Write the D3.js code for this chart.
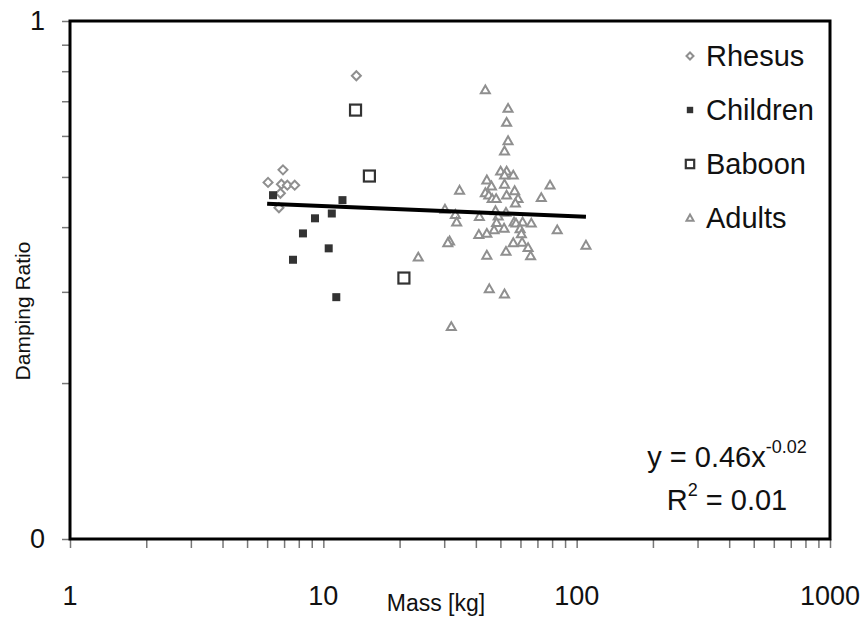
<!DOCTYPE html>
<html>
<head>
<meta charset="utf-8">
<script src="https://cdn.jsdelivr.net/npm/d3@7"></script>
<style>
  html, body { margin: 0; padding: 0; background: #fff; }
  text { font-family: "Liberation Sans", Arial, sans-serif; }
</style>
</head>
<body>
<svg id="chart" width="867" height="619"></svg>
<script>
// ---------------- data ----------------
const rhesusMass  = [13.5, 6.93, 6.05, 6.83, 7.21, 7.71, 6.77, 6.68];
const rhesusRatio = [0.784, 0.516, 0.488, 0.484, 0.482, 0.482, 0.465, 0.436];

const childrenMass  = [6.33, 11.9, 9.27, 10.8, 8.31, 10.5, 7.59, 11.25];
const childrenRatio = [0.461, 0.451, 0.416, 0.425, 0.389, 0.364, 0.346, 0.293];

const baboonMass  = [13.4, 15.2, 20.8];
const baboonRatio = [0.673, 0.502, 0.319];

const adultsMass = [43.6, 53.6, 52.9, 53.6, 51.9, 50.1, 52.9, 51.9, 56.2, 44.2,
                    51.9, 46.1, 78.5, 34.5, 43.6, 45.0, 56.9, 52.9, 46.4, 48.1,
                    58.7, 72.5, 57.3, 30.2, 33.2, 41.3, 49.0, 33.6, 48.3, 56.6,
                    57.6, 61.2, 66.2, 51.7, 47.2, 59.8, 83.8, 41.1, 44.2, 60.5,
                    31.5, 31.0, 56.2, 60.9, 108.8, 64.3, 52.6, 23.7, 44.2, 65.8,
                    45.2, 51.9, 32.0, 47.8, 52.6];
const adultsRatio = [0.736, 0.678, 0.637, 0.587, 0.561, 0.513, 0.513, 0.504, 0.504, 0.493,
                     0.484, 0.480, 0.482, 0.471, 0.466, 0.461, 0.470, 0.461, 0.454, 0.454,
                     0.454, 0.456, 0.445, 0.433, 0.423, 0.419, 0.420, 0.409, 0.408, 0.409,
                     0.407, 0.409, 0.407, 0.398, 0.395, 0.397, 0.395, 0.387, 0.389, 0.388,
                     0.376, 0.373, 0.373, 0.374, 0.369, 0.365, 0.359, 0.350, 0.353, 0.352,
                     0.304, 0.297, 0.257, 0.430, 0.427];

const seriesNames = ["Rhesus", "Children", "Baboon", "Adults"];

// power-law trendline y = a * x^b over the data range
const trendA = 0.46, trendB = -0.02;
const trendRange = [6.0, 108.8];

const xTickValues = [1, 10, 100, 1000];
const xTickLabels = ["1", "10", "100", "1000"];
const yTickLabels = ["0", "1"];
const xTitle = "Mass [kg]";
const yTitle = "Damping Ratio";
const eqLine1 = "y = 0.46x", eqSup1 = "-0.02";
const eqLine2a = "R", eqSup2 = "2", eqLine2b = " = 0.01";

// ---------------- layout ----------------
const svg = d3.select("#chart");
const L = 70, R = 830, T = 21, B = 539;

const x = d3.scaleLog().domain([1, 1000]).range([L, R]);
const y = d3.scaleLog().domain([0.1, 1]).range([B, T]);

svg.append("rect").attr("width", 867).attr("height", 619).attr("fill", "#fff");

// x ticks (majors + minors)
const xMinor = [];
for (let d = 1; d < 1000; d *= 10) for (let k = 1; k <= 9; k++) xMinor.push(d * k);
xMinor.push(1000);
const xAxis = d3.axisBottom(x).tickValues(xMinor).tickSize(9).tickFormat("");
const gx = svg.append("g").attr("transform", `translate(0,${B})`).call(xAxis);
gx.select(".domain").remove();
gx.selectAll(".tick line").attr("stroke", "#777").attr("stroke-width", 1.5);

// y ticks
const yTicks = [0.1, 0.2, 0.3, 0.4, 0.5, 0.6, 0.7, 0.8, 0.9, 1];
const yAxis = d3.axisLeft(y).tickValues(yTicks).tickSize(8).tickFormat("");
const gy = svg.append("g").attr("transform", `translate(${L},0)`).call(yAxis);
gy.select(".domain").remove();
gy.selectAll(".tick line").attr("stroke", "#777").attr("stroke-width", 1.5);

// tick labels
svg.selectAll(".xlab").data(xTickValues).enter().append("text")
  .attr("x", d => x(d)).attr("y", 605)
  .attr("text-anchor", "middle").attr("font-size", 27).attr("fill", "#111")
  .text((d, i) => xTickLabels[i]);
svg.selectAll(".ylab").data([0.1, 1]).enter().append("text")
  .attr("x", 45).attr("y", d => y(d) + 9)
  .attr("text-anchor", "end").attr("font-size", 27).attr("fill", "#111")
  .text((d, i) => yTickLabels[i]);

// axis titles
svg.append("text").attr("x", 436).attr("y", 611).attr("text-anchor", "middle")
  .attr("font-size", 23).attr("fill", "#111").text(xTitle);
svg.append("text").attr("transform", "translate(30,311) rotate(-90)")
  .attr("text-anchor", "middle").attr("font-size", 21).attr("fill", "#111").text(yTitle);

// plot frame
svg.append("rect").attr("x", L).attr("y", T).attr("width", R - L).attr("height", B - T)
  .attr("fill", "none").attr("stroke", "#000").attr("stroke-width", 3);

// ---------------- markers ----------------
const gray = "#8f8f8f", dark = "#333";
function drawMarker(g, type, cx, cy, s) {
  if (type === "Rhesus") {
    g.append("path").attr("d", `M${cx},${cy - s}L${cx + s},${cy}L${cx},${cy + s}L${cx - s},${cy}Z`)
      .attr("fill", "#fff").attr("stroke", gray).attr("stroke-width", 2);
  } else if (type === "Children") {
    g.append("rect").attr("x", cx - s).attr("y", cy - s).attr("width", 2 * s).attr("height", 2 * s)
      .attr("fill", dark).attr("stroke", "none");
  } else if (type === "Baboon") {
    g.append("rect").attr("x", cx - s).attr("y", cy - s).attr("width", 2 * s).attr("height", 2 * s)
      .attr("fill", "#fff").attr("stroke", dark).attr("stroke-width", 2.2);
  } else {
    const h = s * 1.0;
    g.append("path").attr("d", `M${cx},${cy - h}L${cx + s},${cy + h * 0.75}L${cx - s},${cy + h * 0.75}Z`)
      .attr("fill", "#fff").attr("stroke", gray).attr("stroke-width", 2);
  }
}

const pts = svg.append("g");
const series = [
  { name: "Rhesus",   m: rhesusMass,   r: rhesusRatio,   s: 4.5 },
  { name: "Children", m: childrenMass, r: childrenRatio, s: 4 },
  { name: "Baboon",   m: baboonMass,   r: baboonRatio,   s: 5.5 },
  { name: "Adults",   m: adultsMass,   r: adultsRatio,   s: 4.5 }
];
series.forEach(sr => {
  sr.m.forEach((mv, i) => drawMarker(pts, sr.name, x(mv), y(sr.r[i]), sr.s));
});

// trendline
const trendPts = trendRange.map(m => [m, trendA * Math.pow(m, trendB)]);
svg.append("path").datum(trendPts)
  .attr("d", d3.line().x(d => x(d[0])).y(d => y(d[1])))
  .attr("stroke", "#000").attr("stroke-width", 4).attr("fill", "none");

// ---------------- legend ----------------
const leg = svg.append("g");
const legY = [56, 110, 164, 218];
const legS = [3.5, 3.2, 4.2, 3.5];
seriesNames.forEach((n, i) => {
  drawMarker(leg, n, 690, legY[i], legS[i]);
  leg.append("text").attr("x", 706).attr("y", legY[i] + 10)
    .attr("font-size", 29).attr("fill", "#111").text(n);
});

// ---------------- equation ----------------
const t1 = svg.append("text").attr("x", 727).attr("y", 467).attr("text-anchor", "middle")
  .attr("font-size", 29).attr("fill", "#111");
t1.append("tspan").text(eqLine1);
t1.append("tspan").attr("dy", -14).attr("font-size", 18).text(eqSup1);
const t2 = svg.append("text").attr("x", 727).attr("y", 510).attr("text-anchor", "middle")
  .attr("font-size", 29).attr("fill", "#111");
t2.append("tspan").text(eqLine2a);
t2.append("tspan").attr("dy", -14).attr("font-size", 18).text(eqSup2);
t2.append("tspan").attr("dy", 14).text(eqLine2b);
</script>
</body>
</html>
